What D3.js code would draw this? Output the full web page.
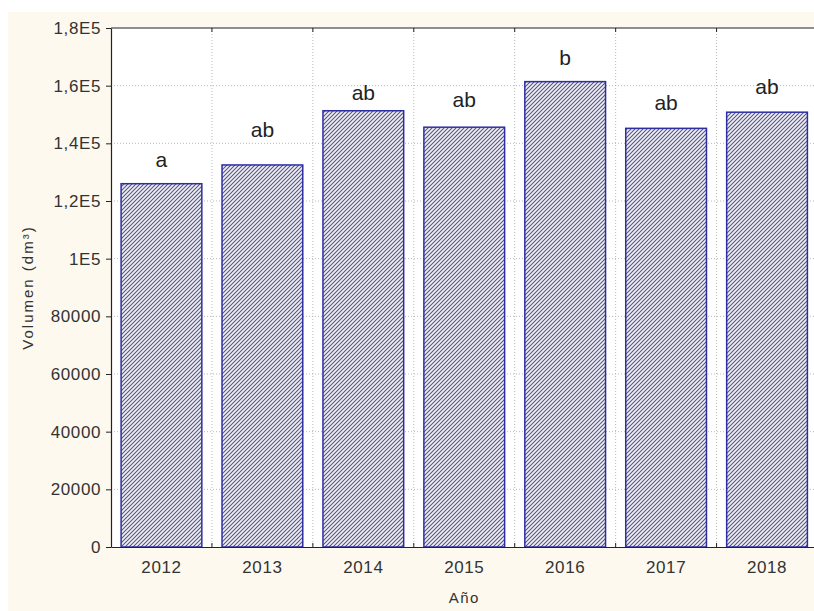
<!DOCTYPE html>
<html>
<head>
<meta charset="utf-8">
<script src="https://cdn.jsdelivr.net/npm/d3@7"></script>
<style>
  body { margin: 0; background: #fff; }
  svg { display: block; font-family: "Liberation Sans", Arial, sans-serif; }
</style>
</head>
<body>
<div id="chart-container"></div>
<script>
// data
const years = ["2012", "2013", "2014", "2015", "2016", "2017", "2018"];
const volumes = [126000, 132500, 151300, 145600, 161400, 145200, 150800];
const letters = ["a", "ab", "ab", "ab", "b", "ab", "ab"];
const letterLevels = [131900, 142200, 155200, 152700, 167200, 151600, 157100];
const yTicks = [0, 20000, 40000, 60000, 80000, 100000, 120000, 140000, 160000, 180000];
const yTickLabels = ["0", "20000", "40000", "60000", "80000", "1E5", "1,2E5", "1,4E5", "1,6E5", "1,8E5"];

const width = 814;
const height = 611;
const plotLeft = 111, plotRight = 817.5, plotTop = 28, plotBottom = 547;

const svg = d3.select("#chart-container")
    .append("svg")
        .attr("width", width)
        .attr("height", height);

// cream page background
svg.append("rect")
    .attr("x", 8).attr("y", 12)
    .attr("width", width - 8).attr("height", height - 12)
    .attr("fill", "#fdf9ef");

// hatch pattern for the bars
const defs = svg.append("defs");
const pat = defs.append("pattern")
    .attr("id", "hatch")
    .attr("patternUnits", "userSpaceOnUse")
    .attr("width", 4).attr("height", 4);
pat.append("rect").attr("width", 4).attr("height", 4).attr("fill", "#eeeef8");
pat.append("path")
    .attr("d", "M-1,1 l2,-2 M0,4 l4,-4 M3,5 l2,-2")
    .attr("stroke", "#55557a")
    .attr("stroke-width", 1.05);

const x = d3.scaleBand()
    .domain(years)
    .range([plotLeft, plotRight])
    .paddingInner(0.2)
    .paddingOuter(0.1);

const y = d3.scaleLinear()
    .domain([0, 180000])
    .range([plotBottom, plotTop]);

// white plot area
svg.append("rect")
    .attr("x", plotLeft).attr("y", plotTop)
    .attr("width", plotRight - plotLeft).attr("height", plotBottom - plotTop)
    .attr("fill", "#fff");

// grid lines
const step = x.step();
const bounds = years.slice(1).map(d => x(d) - step * 0.1);

svg.append("g")
    .selectAll("line")
    .data(yTicks.slice(1, -1))
    .join("line")
        .attr("x1", plotLeft).attr("x2", plotRight)
        .attr("y1", d => y(d)).attr("y2", d => y(d))
        .attr("stroke", "#b8b8b8")
        .attr("stroke-dasharray", "1,2");

svg.append("g")
    .selectAll("line")
    .data(bounds)
    .join("line")
        .attr("x1", d => d).attr("x2", d => d)
        .attr("y1", plotTop).attr("y2", plotBottom)
        .attr("stroke", "#b8b8b8")
        .attr("stroke-dasharray", "1,2");

// bars
svg.append("g")
    .selectAll("rect")
    .data(years)
    .join("rect")
        .attr("x", d => x(d))
        .attr("y", (d, i) => y(volumes[i]))
        .attr("width", x.bandwidth())
        .attr("height", (d, i) => plotBottom - y(volumes[i]))
        .attr("fill", "url(#hatch)")
        .attr("stroke", "#2e2ea4")
        .attr("stroke-width", 1.5);

// significance letters
svg.append("g")
    .selectAll("text")
    .data(letters)
    .join("text")
        .attr("x", (d, i) => x(years[i]) + x.bandwidth() / 2)
        .attr("y", (d, i) => y(letterLevels[i]))
        .attr("text-anchor", "middle")
        .attr("font-size", 21)
        .attr("fill", "#222")
        .text(d => d);

// frame
svg.append("line")
    .attr("x1", plotLeft).attr("x2", plotRight).attr("y1", plotTop).attr("y2", plotTop)
    .attr("stroke", "#222").attr("stroke-width", 1.2);

// top ticks at category boundaries
svg.append("g")
    .selectAll("line")
    .data(bounds)
    .join("line")
        .attr("x1", d => d).attr("x2", d => d)
        .attr("y1", plotTop).attr("y2", plotTop + 4)
        .attr("stroke", "#222");

// y axis
const yAxis = svg.append("g")
    .attr("transform", `translate(${plotLeft},0)`)
    .call(d3.axisLeft(y)
        .tickValues(yTicks)
        .tickFormat((d, i) => yTickLabels[i])
        .tickSize(5)
        .tickPadding(5)
        .tickSizeOuter(0));
yAxis.select(".domain").attr("stroke", "#222").attr("stroke-width", 1.2);
yAxis.selectAll(".tick line").attr("stroke", "#222");
yAxis.selectAll("text")
    .attr("font-size", 17)
    .attr("letter-spacing", 0.6)
    .attr("fill", "#333");

// x axis
const xAxis = svg.append("g")
    .attr("transform", `translate(0,${plotBottom})`)
    .call(d3.axisBottom(x).tickSize(0).tickPadding(14).tickSizeOuter(0));
xAxis.select(".domain").attr("stroke", "#222").attr("stroke-width", 1.2);
xAxis.selectAll("text")
    .attr("font-size", 17)
    .attr("letter-spacing", 0.6)
    .attr("fill", "#333");

// small inner ticks at category boundaries
svg.append("g")
    .selectAll("line")
    .data(bounds)
    .join("line")
        .attr("x1", d => d).attr("x2", d => d)
        .attr("y1", plotBottom).attr("y2", plotBottom - 4)
        .attr("stroke", "#222");

// axis titles
svg.append("text")
    .attr("x", (plotLeft + plotRight) / 2)
    .attr("y", 603)
    .attr("text-anchor", "middle")
    .attr("font-size", 15)
    .attr("letter-spacing", 1.5)
    .attr("fill", "#333")
    .text("Año");

svg.append("text")
    .attr("transform", `translate(33,${(plotTop + plotBottom) / 2}) rotate(-90)`)
    .attr("text-anchor", "middle")
    .attr("font-size", 15)
    .attr("letter-spacing", 2)
    .attr("fill", "#333")
    .text("Volumen (dm³)");
</script>
</body>
</html>
